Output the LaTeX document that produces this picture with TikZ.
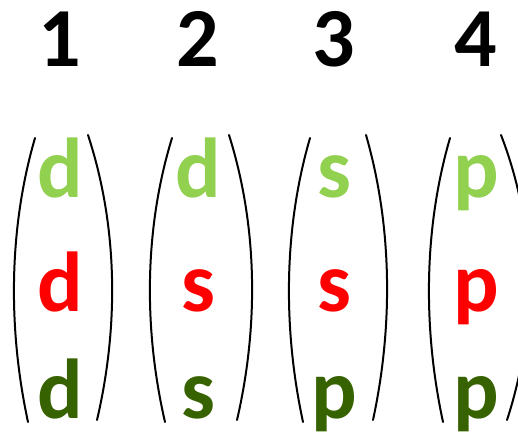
\documentclass[tikz,border=0pt]{standalone}
\usepackage{fontspec}
\setmainfont{Carlito}
\usetikzlibrary{positioning}
\usetikzlibrary{calc}

\definecolor{lightgr}{HTML}{92D050}
\definecolor{darkgr}{HTML}{376200}
\definecolor{brightred}{HTML}{FF0000}

\tikzset{
	num/.style={anchor=base, inner sep=0pt, font=\fontsize{84}{84}\selectfont\bfseries},
	orb/.style={anchor=base, inner sep=0pt, text depth=0pt, font=\fontsize{85}{85}\selectfont\bfseries},
	brack/.style={line width=2pt, line cap=round}
}

\begin{document}
\begin{tikzpicture}[x=1pt,y=-1pt]
\useasboundingbox (0,0) rectangle (518,432);

% numbers and letters
\foreach \c/\n/\a/\b/\d in {60/1/d/d/d, 198/2/d/s/s, 334/3/s/s/p, 476/4/p/p/p}{
	\node[num] (num\n) at (\c,66) {\n};
	\node[orb, text=lightgr] (top\n) at (\c,197) {\a};
	\node[orb, text=brightred] (mid\n) at (\c,311) {\b};
	\node[orb, text=darkgr] (bot\n) at (\c,418) {\d};
}

% brackets
\foreach \lt/\lc/\lb/\rt/\rc/\rb in {35/8.2/28/88/118.5/97, 172/143.8/165/229/258.3/237, 310/283.2/303/366/392.8/373, 450/423.2/443/501/537/507}{
	\draw[brack] (\lt,138) .. controls (\lc,230) and (\lc,330) .. (\lb,422);
	\draw[brack] (\rt,135) .. controls (\rc,228) and (\rc,328) .. (\rb,420);
}
\end{tikzpicture}
\end{document}
